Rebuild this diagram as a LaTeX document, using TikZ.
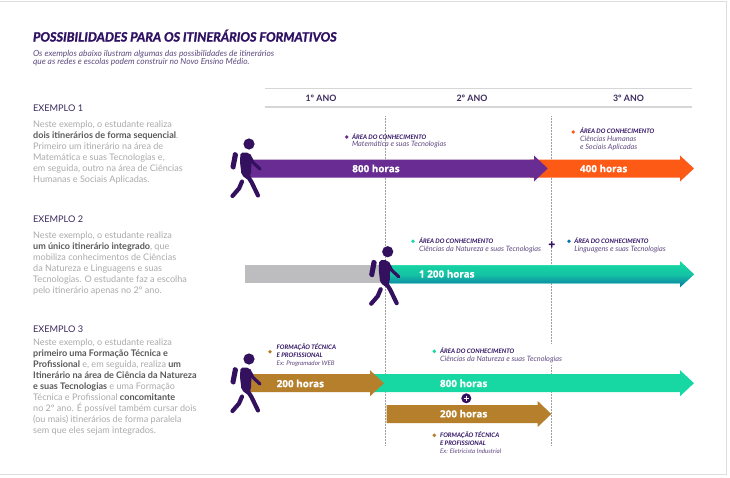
\documentclass[tikz,border=0pt]{standalone}
\usepackage{fontspec}
\setmainfont{Lato}
\newfontfamily\titlefont[BoldItalicFeatures={FakeBold=1.6}]{Lato}
\newfontfamily\hoursfont[BoldFeatures={FakeBold=0.6}]{Open Sans}
\definecolor{cTitle}{HTML}{2F1163}
\definecolor{cSub}{HTML}{5F4A80}
\definecolor{cGray}{HTML}{ABABAB}
\definecolor{cBold}{HTML}{595959}
\definecolor{cHead}{HTML}{3C2A5C}
\definecolor{cPurple}{HTML}{682C92}
\definecolor{cOrange}{HTML}{FD5A16}
\definecolor{cGreen}{HTML}{17D8A3}
\definecolor{cBlue}{HTML}{0B74A6}
\definecolor{cGold}{HTML}{B67F2B}
\definecolor{cWalker}{HTML}{34115F}
\definecolor{cLine}{HTML}{D6D6D6}
\definecolor{cFrame}{HTML}{DEDEDE}
\definecolor{cBar}{HTML}{BDBDBF}
\newcommand{\bk}[1]{\textcolor{cBold}{\bfseries #1}}
\tikzset{
  x=1pt,y=-1pt,
  tx/.style={inner sep=0pt,outer sep=0pt,anchor=west,text depth=0pt},
  exhead/.style={tx,text height=6.6pt,font=\fontsize{9.2}{11}\selectfont,text=cHead},
  bodyblock/.style={inner sep=0pt,anchor=north west,align=left,text=cGray,font=\fontsize{9.07}{11}\selectfont},
  yearlab/.style={inner sep=0pt,font=\fontsize{8.8}{11}\selectfont\bfseries,text=cHead},
  hours/.style={tx,text height=7pt,font=\fontsize{9.9}{11}\selectfont\hoursfont\bfseries,text=white},
  areahead/.style={tx,text height=4.5pt,font=\fontsize{6.2}{8}\selectfont\bfseries\itshape,text=cTitle},
  areatext/.style={tx,text height=4.8pt,font=\fontsize{7.35}{8}\selectfont\itshape,text=cSub},
  extext/.style={tx,text height=4.5pt,font=\fontsize{6.25}{8}\selectfont\itshape,text=cSub},
  titletext/.style={tx,text height=9pt,font=\fontsize{12.75}{14}\selectfont\titlefont\bfseries\itshape,text=cTitle},
  subtext/.style={tx,text height=5.4pt,font=\fontsize{8.4}{9}\selectfont\itshape,text=cSub},
  yearline/.style={draw=cLine,line width=1.1pt},
  guide/.style={draw=gray!75,line width=.5pt,densely dotted},
  walkerleg/.style={draw=cWalker,line cap=round,line join=round,line width=4.2pt},
  dotmark/.style={circle,inner sep=0pt,minimum size=3.8pt},
  walker/.pic={
    \fill[cWalker] (0,0) circle (5.6);
    \fill[cWalker,rounded corners=1.5pt] (-15.7,7.7) -- (-10.7,9.3) -- (-14,26) -- (-18.8,24.3) -- cycle;
    \fill[cWalker,rounded corners=2pt] (-8.5,8.5) -- (0,8.5) -- (2.5,16) -- (2,30) -- (-1,36) -- (-7.5,31) -- (-9,18) -- cycle;
    \draw[walkerleg,line width=3.2pt] (0,11) -- (4,18.5) -- (11,25);
    \draw[walkerleg] (-2,31) -- (2.5,38) -- (9,51.5);
    \draw[walkerleg] (-7,37.5) -- (-10,44.5) -- (-16.5,52);
  }
}
\newcommand{\bararrow}[6][]{% [extra] x0, xbase, xtip, ycentre, colour
  \fill[#6,#1] (#2,#5-9) -- (#3,#5-9) -- (#3,#5-13) -- (#4,#5) -- (#3,#5+13) -- (#3,#5+9) -- (#2,#5+9) -- cycle;}
\begin{document}
\begin{tikzpicture}
\useasboundingbox (0,0) rectangle (730,477);
\fill[white] (0,0) rectangle (730,477);
% frame
\draw[cFrame,line width=1.4pt] (0,1.5) -- (726.5,1.5) -- (726.5,474.5) -- (0,474.5);
% title
\node[titletext] (title) at (33,37) {POSSIBILIDADES PARA OS ITINERÁRIOS FORMATIVOS};
\node[subtext] (sub1) at (33,53.3) {Os exemplos abaixo ilustram algumas das possibilidades de itinerários};
\node[subtext] (sub2) at (33,62.2) {que as redes e escolas podem construir no Novo Ensino Médio.};
% year header
\coordinate (hl1) at (265,88.5); \coordinate (hr1) at (692,88.5);
\coordinate (hl2) at (265,107); \coordinate (hr2) at (692,107);
\draw[yearline] (hl1) -- (hr1);
\draw[yearline] (hl2) -- (hr2);
\node[yearlab] (y1) at (321,98.3) {1º ANO};
\node[yearlab] (y2) at (472,98.3) {2º ANO};
\node[yearlab] (y3) at (628.5,98.3) {3º ANO};
% guides
\coordinate (g1a) at (385.5,116); \coordinate (g1b) at (385.5,445);
\coordinate (g2a) at (551.5,116); \coordinate (g2b) at (551.5,343);
\coordinate (g2c) at (551.5,365); \coordinate (g2d) at (551.5,445);
\draw[guide] (g1a) -- (g1b);
\draw[guide] (g2a) -- (g2b);
\draw[guide] (g2c) -- (g2d);
% left texts
\node[exhead] (ex1) at (33,108.5) {EXEMPLO 1};
\node[bodyblock] (b1) at (33,120.7) {Neste exemplo, o estudante realiza\\
\bk{dois itinerários de forma sequencial}.\\
Primeiro um itinerário na área de\\
Matemática e suas Tecnologias e,\\
em seguida, outro na área de Ciências\\
Humanas e Sociais Aplicadas.};
\node[exhead] (ex2) at (33,219.5) {EXEMPLO 2};
\node[bodyblock] (b2) at (33,231.7) {Neste exemplo, o estudante realiza\\
\bk{um único itinerário integrado}, que\\
mobiliza conhecimentos de Ciências\\
da Natureza e Linguagens e suas\\
Tecnologias. O estudante faz a escolha\\
pelo itinerário apenas no 2º ano.};
\node[exhead] (ex3) at (33,328.7) {EXEMPLO 3};
\node[bodyblock] (b3) at (33,339) {Neste exemplo, o estudante realiza\\
\bk{primeiro uma Formação Técnica e}\\
\bk{Profissional} e, em seguida, realiza \bk{um}\\
\bk{Itinerário na área de Ciência da Natureza}\\
\bk{e suas Tecnologias} e uma Formação\\
Técnica e Profissional \bk{concomitante}\\
no 2º ano. É possível também cursar dois\\
(ou mais) itinerários de forma paralela\\
sem que eles sejam integrados.};
% Example 1 arrows
\bararrow{530}{680}{694}{168.5}{cOrange}
\bararrow{248}{534}{547.7}{168.5}{cPurple}
% Example 2 arrows
\fill[cBar] (245,265.3) rectangle (386,283.3);
\bararrow[top color=cGreen,bottom color=cBlue,middle color=cGreen!80!cBlue]{385}{680}{694}{274.3}{cGreen}
% Example 3 arrows
\bararrow{370}{680}{694}{383.2}{cGreen}
\bararrow{248}{370}{384}{383.2}{cGold}
\bararrow{386.7}{537.7}{551.3}{414}{cGold}
% walkers
\pic at (249,144) {walker};
\pic at (387.7,251.7) {walker};
\pic at (249,359) {walker};
% hours
\node[hours] (h1) at (352.3,168.7) {800 horas};
\node[hours] (h2) at (580,168.7) {400 horas};
\node[hours] (h3) at (419,274) {1 200 horas};
\node[hours] (h4) at (276.7,383.7) {200 horas};
\node[hours] (h5) at (440,383.5) {800 horas};
\node[hours] (h6) at (440,413.9) {200 horas};
% labels example 1
\node[dotmark,fill=cPurple] (d1) at (346.7,137) {};
\node[areahead] (a1) at (352,137.3) {ÁREA DO CONHECIMENTO};
\node[areatext] (a1b) at (352,144.5) {Matemática e suas Tecnologias};
\node[dotmark,fill=cOrange] (d2) at (573.3,132) {};
\node[areahead] (a2) at (580,131.7) {ÁREA DO CONHECIMENTO};
\node[areatext] (a2b) at (580,139.5) {Ciências Humanas};
\node[areatext] (a2c) at (580,147.3) {e Sociais Aplicadas};
% labels example 2
\node[dotmark,fill=cGreen] (d3) at (413,241.3) {};
\node[areahead] (a3) at (419,241.3) {ÁREA DO CONHECIMENTO};
\node[areatext] (a3b) at (419,249.3) {Ciências da Natureza e suas Tecnologias};
\node[dotmark,fill=cBlue] (d4) at (569,241.3) {};
\node[areahead] (a4) at (574.3,241.3) {ÁREA DO CONHECIMENTO};
\node[areatext] (a4b) at (574.3,249.3) {Linguagens e suas Tecnologias};
\node[inner sep=0pt,font=\fontsize{12}{12}\selectfont\hoursfont\bfseries,text=cWalker] (plusA) at (551.7,245) {+};
% labels example 3
\node[dotmark,fill=cGold] (d5) at (270,351.7) {};
\node[areahead] (a5) at (276.7,347.3) {FORMAÇÃO TÉCNICA};
\node[areahead] (a5b) at (276.7,355.3) {E PROFISSIONAL};
\node[extext] (a5c) at (276.7,363.3) {Ex: Programador WEB};
\node[dotmark,fill=cGreen] (d6) at (434.3,351.3) {};
\node[areahead] (a6) at (440,351.3) {ÁREA DO CONHECIMENTO};
\node[areatext] (a6b) at (440,359.3) {Ciências da Natureza e suas Tecnologias};
\node[dotmark,fill=cGold] (d7) at (434.3,435.3) {};
\node[areahead] (a7) at (440,435.3) {FORMAÇÃO TÉCNICA};
\node[areahead] (a7b) at (440,443.3) {E PROFISSIONAL};
\node[extext] (a7c) at (440,451.3) {Ex: Eletricista Industrial};
% circled plus
\node[circle,fill=cWalker,minimum size=10pt,inner sep=0pt] (plusB) at (466.3,398.3) {};
\draw[white,line width=1.5pt] ([xshift=-2.8pt]plusB.center) -- ([xshift=2.8pt]plusB.center);
\draw[white,line width=1.5pt] ([yshift=-2.8pt]plusB.center) -- ([yshift=2.8pt]plusB.center);
\end{tikzpicture}
\end{document}
